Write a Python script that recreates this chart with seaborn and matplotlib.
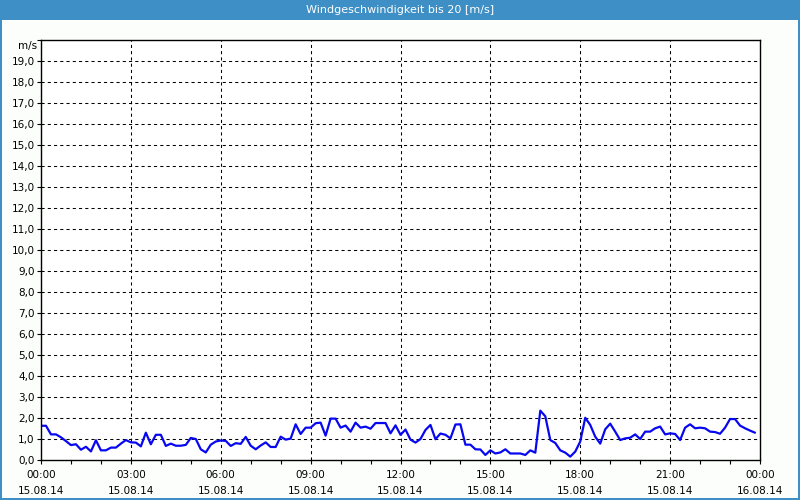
import matplotlib
matplotlib.use("Agg")
import matplotlib.pyplot as plt
from matplotlib.patches import Rectangle
from matplotlib.ticker import MultipleLocator
import seaborn as sns
import numpy as np
import pandas as pd

title = "Windgeschwindigkeit bis 20 [m/s]"
unit_label = "m/s"
x_tick_labels = ["00:00\n15.08.14", "03:00\n15.08.14", "06:00\n15.08.14",
                 "09:00\n15.08.14", "12:00\n15.08.14", "15:00\n15.08.14",
                 "18:00\n15.08.14", "21:00\n15.08.14", "00:00\n16.08.14"]
x_tick_hours = [0, 3, 6, 9, 12, 15, 18, 21, 24]
y_tick_values = list(range(0, 20))
y_tick_labels = [f"{v},0" for v in y_tick_values]

# wind speed every 10 minutes, 15.08.14 00:00 .. 23:50
wind = [1.63, 1.63, 1.22, 1.22, 1.08, 0.90, 0.71, 0.75, 0.49, 0.63,
        0.41, 0.94, 0.46, 0.46, 0.59, 0.59, 0.78, 0.95, 0.84, 0.83,
        0.65, 1.30, 0.75, 1.20, 1.20, 0.67, 0.78, 0.68, 0.68, 0.72,
        1.05, 1.00, 0.51, 0.36, 0.73, 0.88, 0.93, 0.91, 0.67, 0.80,
        0.77, 1.10, 0.68, 0.51, 0.69, 0.84, 0.62, 0.62, 1.11, 0.97,
        1.02, 1.70, 1.24, 1.54, 1.54, 1.75, 1.78, 1.16, 1.97, 1.97,
        1.54, 1.64, 1.35, 1.78, 1.54, 1.59, 1.49, 1.76, 1.76, 1.76,
        1.27, 1.65, 1.20, 1.45, 0.97, 0.83, 1.00, 1.43, 1.67, 0.99,
        1.26, 1.20, 1.03, 1.69, 1.70, 0.73, 0.73, 0.51, 0.50, 0.24,
        0.46, 0.31, 0.36, 0.51, 0.31, 0.31, 0.31, 0.24, 0.46, 0.35,
        2.35, 2.08, 0.95, 0.81, 0.46, 0.35, 0.16, 0.40, 0.88, 2.01,
        1.67, 1.11, 0.78, 1.46, 1.73, 1.35, 0.95, 1.03, 1.06, 1.22,
        1.00, 1.35, 1.35, 1.51, 1.59, 1.22, 1.27, 1.24, 0.95, 1.54,
        1.70, 1.51, 1.54, 1.51, 1.35, 1.33, 1.25, 1.54, 1.95, 1.95,
        1.64, 1.51, 1.40, 1.30]
minutes_step = 10

df = pd.DataFrame({"hour": np.arange(len(wind)) * minutes_step / 60.0, "wind": wind})

sns.set_theme(style="white")
plt.rcParams['font.family'] = ['DejaVu Sans']

W, H = 800, 500
fig = plt.figure(figsize=(8, 5), dpi=100)
fig.patch.set_facecolor("#fcfefc")

blue = "#3d8fc6"
# title bar and frame
fig.patches.append(Rectangle((0, 1 - 20 / H), 1, 20 / H, transform=fig.transFigure,
                             facecolor=blue, edgecolor="none", zorder=0))
fig.patches.append(Rectangle((0, 0), 2 / W, 1, transform=fig.transFigure,
                             facecolor=blue, edgecolor="none", zorder=0))
fig.patches.append(Rectangle((1 - 2 / W, 0), 2 / W, 1, transform=fig.transFigure,
                             facecolor=blue, edgecolor="none", zorder=0))
fig.patches.append(Rectangle((0, 0), 1, 2 / H, transform=fig.transFigure,
                             facecolor=blue, edgecolor="none", zorder=0))
fig.text(0.5, 1 - 10 / H, title, color="white", ha="center", va="center",
         fontsize=8, fontweight="normal")

ax = fig.add_axes([41 / W, 40 / H, 719 / W, 420 / H])
ax.set_facecolor("white")

sns.lineplot(data=df, x="hour", y="wind", ax=ax, color="#0808f0", linewidth=1.6)

ax.set_xlim(0, 24)
ax.set_ylim(0, 20)
ax.set_xticks(x_tick_hours)
ax.set_xticklabels(x_tick_labels, fontsize=7.5, linespacing=1.75)
ax.xaxis.set_minor_locator(MultipleLocator(1))
ax.set_yticks(y_tick_values + [20])
ax.set_yticklabels(y_tick_labels + [""], fontsize=7.5)
ax.set_xlabel("")
ax.set_ylabel("")

ax.tick_params(axis="both", which="both", direction="out", length=3, width=0.8,
               color="black", labelcolor="black", pad=1.5,
               left=True, bottom=True)
ax.tick_params(axis="x", which="major", pad=4)

for y in range(1, 20):
    ax.axhline(y, color="black", linewidth=0.75, linestyle=(0, (3, 3)), zorder=1)
for x in [3, 6, 9, 12, 15, 18, 21]:
    ax.axvline(x, color="black", linewidth=0.75, linestyle=(0, (3, 3)), zorder=1)

for s in ax.spines.values():
    s.set_visible(True)
    s.set_color("black")
    s.set_linewidth(1.0)

ax.annotate(unit_label, xy=(0, 19.7), xycoords=("axes fraction", "data"),
            xytext=(-4, 0), textcoords="offset pixels", ha="right", va="center",
            fontsize=7.5, color="black")

fig.savefig("out.png", dpi=100, facecolor=fig.get_facecolor())
